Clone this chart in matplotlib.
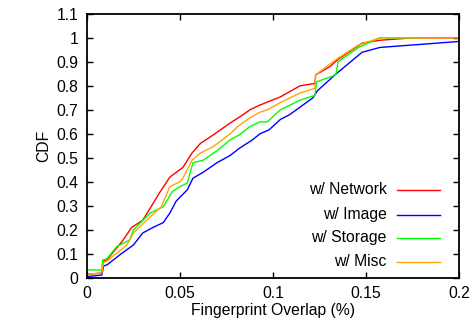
import matplotlib
matplotlib.use('Agg')
import matplotlib.pyplot as plt

plt.rcParams['font.family'] = ['Liberation Sans', 'DejaVu Sans']
plt.rcParams['font.size'] = 11.3

# CDF curves (x = overlap %, y = CDF)
net_x = [0, 0.008, 0.009, 0.0108, 0.0195, 0.024, 0.030, 0.034, 0.039, 0.0446, 0.0516, 0.0565,
         0.061, 0.068, 0.077, 0.084, 0.0876, 0.093, 0.104, 0.1145, 0.1226, 0.123, 0.1306,
         0.135, 0.148, 0.1575, 0.175, 0.2]
net_y = [0.015, 0.02, 0.07, 0.075, 0.158, 0.21, 0.24, 0.29, 0.354, 0.42, 0.46, 0.52,
         0.56, 0.596, 0.645, 0.68, 0.70, 0.72, 0.754, 0.80, 0.81, 0.846, 0.88,
         0.91, 0.978, 0.99, 1.0, 1.0]

img_x = [0, 0.008, 0.009, 0.0108, 0.0177, 0.025, 0.030, 0.0355, 0.041, 0.0446, 0.048, 0.054,
         0.057, 0.0625, 0.070, 0.077, 0.082, 0.089, 0.093, 0.098, 0.104, 0.109, 0.1215,
         0.124, 0.134, 0.148, 0.1575, 0.2]
img_y = [0.005, 0.012, 0.05, 0.054, 0.096, 0.137, 0.187, 0.21, 0.23, 0.27, 0.32, 0.367,
         0.415, 0.44, 0.48, 0.51, 0.54, 0.575, 0.60, 0.617, 0.66, 0.68, 0.75,
         0.78, 0.85, 0.94, 0.96, 0.985]

stor_x = [0, 0.008, 0.0085, 0.0108, 0.016, 0.023, 0.025, 0.034, 0.041, 0.046, 0.050, 0.054,
          0.057, 0.0625, 0.070, 0.077, 0.082, 0.0876, 0.093, 0.097, 0.104, 0.1145, 0.1226,
          0.1235, 0.132, 0.134, 0.135, 0.146, 0.1575, 0.177]
stor_y = [0.033, 0.033, 0.075, 0.08, 0.13, 0.158, 0.2, 0.27, 0.296, 0.36, 0.38, 0.395,
          0.48, 0.49, 0.53, 0.575, 0.596, 0.63, 0.65, 0.65, 0.70, 0.74, 0.76,
          0.817, 0.84, 0.85, 0.90, 0.96, 1.0, 1.0]

misc_x = [0, 0.008, 0.009, 0.0108, 0.0215, 0.025, 0.034, 0.040, 0.0446, 0.050, 0.0516, 0.0565,
          0.061, 0.068, 0.077, 0.081, 0.0876, 0.093, 0.097, 0.104, 0.1145, 0.1226, 0.123,
          0.134, 0.146, 0.1575, 0.2]
misc_y = [0.015, 0.02, 0.065, 0.07, 0.137, 0.187, 0.254, 0.296, 0.38, 0.40, 0.415, 0.49,
          0.52, 0.547, 0.60, 0.63, 0.667, 0.69, 0.70, 0.73, 0.77, 0.79, 0.846,
          0.91, 0.97, 1.0, 1.0]

labels = ['w/ Network', 'w/ Image', 'w/ Storage', 'w/ Misc']
colors = ['#ff0000', '#0000ff', '#00ff00', '#ffa500']
xticks = [0, 0.05, 0.1, 0.15, 0.2]
xticklabels = ['0', '0.05', '0.1', '0.15', '0.2']
yticks = [0, 0.1, 0.2, 0.3, 0.4, 0.5, 0.6, 0.7, 0.8, 0.9, 1.0, 1.1]
yticklabels = ['0', '0.1', '0.2', '0.3', '0.4', '0.5', '0.6', '0.7', '0.8', '0.9', '1', '1.1']

fig = plt.figure(figsize=(4.75, 3.3), dpi=100)
ax = fig.add_axes([0.183, 0.158, 0.783, 0.80])

series = [(net_x, net_y), (img_x, img_y), (stor_x, stor_y), (misc_x, misc_y)]
for (xs, ys), lab, c in zip(series, labels, colors):
    ax.plot(xs, ys, color=c, lw=1.0, label=lab)

ax.set_xlim(0, 0.2)
ax.set_ylim(0, 1.1)
ax.set_xticks(xticks)
ax.set_xticklabels(xticklabels)
ax.set_yticks(yticks)
ax.set_yticklabels(yticklabels)
ax.tick_params(direction='in', top=True, right=True, length=4, width=1, pad=6)
for s in ax.spines.values():
    s.set_linewidth(1.3)

ax.set_xlabel('Fingerprint Overlap (%)', labelpad=1)
ax.set_ylabel('CDF', labelpad=0)
ax.yaxis.set_label_coords(-0.095, 0.5)

# gnuplot-style key: right-aligned text, line sample to the right
key_rows = [0.333, 0.239, 0.152, 0.061]
for lab, c, ky in zip(labels, colors, key_rows):
    ax.text(0.806, ky, lab, transform=ax.transAxes, ha='right', va='center')
    ax.plot([0.833, 0.949], [ky, ky], transform=ax.transAxes, color=c, lw=1.0)

fig.savefig('out.png', dpi=100)
